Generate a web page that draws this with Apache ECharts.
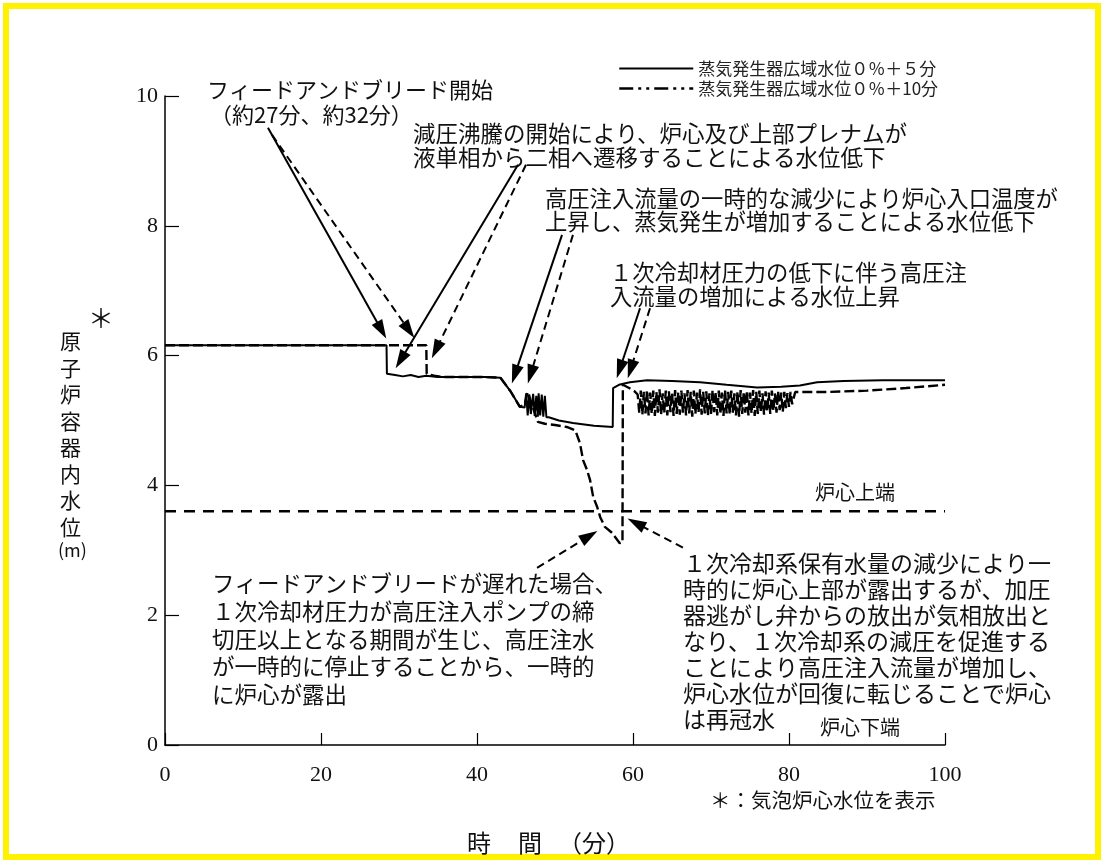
<!DOCTYPE html>
<html><head><meta charset="utf-8">
<script src="https://cdn.jsdelivr.net/npm/echarts@6/dist/echarts.min.js"></script>
<style>html,body{margin:0;padding:0;background:#fff}#c{width:1104px;height:863px}</style>
</head><body><div id="c"></div>
<script>
// ---- data (time in minutes, level in m) ----
const seriesNames = ['蒸気発生器広域水位０％＋５分', '蒸気発生器広域水位０％＋10分'];
const xTicks = [0, 20, 40, 60, 80, 100];
const yTicks = [0, 2, 4, 6, 8, 10];
const coreTopLevel = 3.6;

const sgPlus5 = [
  [0, 6.16], [28.4, 6.16], [28.45, 5.72], [29.5, 5.70], [30.5, 5.68], [31.5, 5.70], [32.5, 5.67],
  [33.5, 5.69], [35, 5.67], [38, 5.67], [41, 5.67], [43, 5.66], [44.3, 5.45], [45.5, 5.21], [46.1, 5.20],
  [46.3, 5.42], [46.5, 5.08], [46.7, 5.40], [46.9, 5.10], [47.2, 5.41], [47.4, 5.07], [47.6, 5.38],
  [47.8, 5.06], [47.9, 5.42], [48.1, 5.08], [48.3, 5.40], [48.5, 5.06], [48.7, 5.38], [48.9, 5.05],
  [49.2, 5.05], [50.5, 5.00], [52.3, 4.96], [55, 4.92], [57.4, 4.90], [57.45, 5.50], [58.2, 5.55],
  [59.6, 5.59], [61.8, 5.62], [65, 5.61], [68.6, 5.59], [72, 5.55], [75.9, 5.51], [79, 5.52],
  [81.4, 5.54], [83.6, 5.59], [87, 5.61], [92, 5.62], [100, 5.62]
];

const sgPlus10 = [
  [0, 6.16], [33.5, 6.16], [33.55, 5.72], [34.5, 5.69], [35.5, 5.67], [38, 5.67], [41, 5.67],
  [43, 5.66], [44.3, 5.45], [45.5, 5.21], [46.1, 5.25], [46.5, 5.44], [47.8, 4.98], [48.7, 4.95],
  [50, 4.93], [51.5, 4.90], [52.6, 4.85], [53.2, 4.65], [53.6, 4.39], [54.1, 4.24], [54.5, 4.08],
  [54.9, 3.82], [55.4, 3.67], [55.8, 3.51], [56.4, 3.36], [57.3, 3.27], [58.3, 3.11], [58.65, 3.12],
  [58.7, 5.55], [59.5, 5.50], [60.2, 5.45],
  [60.6, 5.40], [60.8, 5.12], [61.0, 5.46], [61.2, 5.09], [61.4, 5.44], [61.6, 5.11], [61.8, 5.47],
  [62.0, 5.08], [62.2, 5.43], [62.4, 5.10], [62.6, 5.46], [62.8, 5.07], [63.0, 5.44], [63.2, 5.12],
  [63.4, 5.48], [63.6, 5.09], [63.8, 5.42], [64.0, 5.11], [64.2, 5.46], [64.4, 5.08], [64.6, 5.45],
  [64.8, 5.13], [65.0, 5.43], [65.2, 5.07], [65.4, 5.47], [65.6, 5.10], [65.8, 5.44], [66.0, 5.09],
  [66.2, 5.46], [66.4, 5.12], [66.6, 5.42], [66.8, 5.08], [67.0, 5.47], [67.2, 5.11], [67.4, 5.44],
  [67.6, 5.06], [67.8, 5.46], [68.0, 5.10], [68.2, 5.43], [68.4, 5.12], [68.6, 5.48], [68.8, 5.09],
  [69.0, 5.44], [69.2, 5.11], [69.4, 5.45], [69.6, 5.07], [69.8, 5.42], [70.0, 5.10], [70.2, 5.47],
  [70.4, 5.13], [70.6, 5.44], [70.8, 5.08], [71.0, 5.46], [71.2, 5.10], [71.4, 5.43], [71.6, 5.07],
  [71.8, 5.47], [72.0, 5.11], [72.2, 5.44], [72.4, 5.09], [72.6, 5.46], [72.8, 5.12], [73.0, 5.42],
  [73.2, 5.08], [73.4, 5.45], [73.6, 5.06], [73.8, 5.47], [74.0, 5.10], [74.2, 5.44], [74.4, 5.12],
  [74.6, 5.46], [74.8, 5.08], [75.0, 5.43], [75.2, 5.11], [75.4, 5.47], [75.6, 5.07], [75.8, 5.44],
  [76.0, 5.10], [76.2, 5.46], [76.4, 5.13], [76.6, 5.42], [76.8, 5.09], [77.0, 5.45], [77.2, 5.14],
  [77.4, 5.43], [77.6, 5.10], [77.8, 5.46], [78.0, 5.15], [78.2, 5.42], [78.4, 5.12], [78.6, 5.45],
  [78.8, 5.16], [79.0, 5.43], [79.2, 5.13], [79.4, 5.44], [79.6, 5.19], [79.8, 5.42], [80.0, 5.21],
  [80.2, 5.44], [80.4, 5.25],
  [80.8, 5.44], [85, 5.44], [90, 5.46], [95, 5.50], [100, 5.55]
];

// annotation arrows: [start, head] in data units, solid or dashed
const arrows = [
  {from: [13.2, 9.51], to: [27.77, 6.39], dashed: false},
  {from: [13.72, 9.40], to: [31.27, 6.39], dashed: true},
  {from: [45.26, 8.94], to: [30.2, 5.93], dashed: false},
  {from: [46.28, 8.94], to: [34.74, 6.09], dashed: true},
  {from: [50.9, 7.86], to: [44.86, 5.71], dashed: false},
  {from: [52.3, 7.86], to: [46.87, 5.71], dashed: true},
  {from: [60.9, 6.73], to: [58.3, 5.79], dashed: false},
  {from: [62.18, 6.73], to: [59.7, 5.79], dashed: true},
  {from: [47.7, 2.73], to: [54.4, 3.22], dashed: true},
  {from: [66.4, 3.04], to: [60.38, 3.42], dashed: true}
];

const JP = '"Noto Sans CJK JP", sans-serif';
const SERIF = '"Liberation Serif", "DejaVu Serif", serif';

function txt(left, top, lines, size, lh) {
  return {type: 'text', left: left, top: top, silent: true,
    style: {text: lines.join('\n'), font: size + 'px ' + JP, fill: '#111', lineHeight: lh}};
}

const chart = echarts.init(document.getElementById('c'));
chart.setOption({
  animation: false,
  backgroundColor: '#fff',
  grid: {left: 165, right: 159, top: 96, bottom: 118},
  legend: {
    orient: 'vertical', left: 613, top: 55, itemWidth: 74, itemHeight: 14, itemGap: 3,
    textStyle: {fontFamily: JP, fontSize: 17, color: '#222'},
    itemStyle: {opacity: 0},
    data: [
      {name: seriesNames[0], itemStyle: {opacity: 0}},
      {name: seriesNames[1], itemStyle: {opacity: 0}, lineStyle: {type: [14, 5, 3, 5, 3, 5], width: 2.5}}
    ]
  },
  xAxis: {
    type: 'value', min: 0, max: 100, interval: 20,
    axisLine: {lineStyle: {color: '#000', width: 1.5}},
    axisTick: {inside: true, length: 12, lineStyle: {color: '#000', width: 1.2}},
    axisLabel: {margin: 19, fontFamily: SERIF, fontSize: 22, color: '#111'},
    splitLine: {show: false}
  },
  yAxis: {
    type: 'value', min: 0, max: 10, interval: 2,
    axisLine: {show: true, lineStyle: {color: '#000', width: 1.5}},
    axisTick: {show: true, inside: true, length: 14, lineStyle: {color: '#000', width: 1.2}},
    axisLabel: {margin: 7, fontFamily: SERIF, fontSize: 22, color: '#111'},
    splitLine: {show: false}
  },
  series: [
    {name: seriesNames[0], type: 'line', data: sgPlus5, symbol: 'none', z: 4,
     lineStyle: {color: '#000', width: 2}, itemStyle: {color: '#000'}},
    {name: seriesNames[1], type: 'line', data: sgPlus10, symbol: 'none', z: 3,
     lineStyle: {color: '#000', width: 2.4, type: [10, 4]}, itemStyle: {color: '#000'}},
    {name: 'coreTop', type: 'line', data: [[0, coreTopLevel], [100, coreTopLevel]], symbol: 'none',
     lineStyle: {color: '#000', width: 2.5, type: [11, 8]}, silent: true},
    {name: 'arrows', type: 'line', data: [], symbol: 'none',
     markLine: {
       silent: true, symbol: ['none', 'triangle'], symbolSize: [12, 19], label: {show: false},
       data: arrows.map(a => {
         const ls = {color: '#000', width: 2, type: a.dashed ? [8, 5] : 'solid'};
         return [{coord: a.from, lineStyle: ls}, {coord: a.to, lineStyle: ls}];
       })
     }}
  ],
  graphic: [
    {type: 'rect', silent: true, shape: {x: 6, y: 6, width: 1092, height: 851},
     style: {fill: 'none', stroke: '#FFF200', lineWidth: 6}},
    txt(207, 78, ['フィードアンドブリード開始'], 22, 24),
    txt(210, 103, ['（約27分、約32分）'], 22, 24),
    txt(413, 121, ['減圧沸騰の開始により、炉心及び上部プレナムが', '液単相から二相へ遷移することによる水位低下'], 22.5, 24),
    txt(545, 187, ['高圧注入流量の一時的な減少により炉心入口温度が', '上昇し、蒸気発生が増加することによる水位低下'], 22.3, 23),
    txt(610, 261, ['１次冷却材圧力の低下に伴う高圧注', '入流量の増加による水位上昇'], 22.3, 24),
    txt(815, 481, ['炉心上端'], 20, 22),
    txt(212, 570, ['フィードアンドブリードが遅れた場合、', '１次冷却材圧力が高圧注入ポンプの締',
      '切圧以上となる期間が生じ、高圧注水', 'が一時的に停止することから、一時的', 'に炉心が露出'], 22.5, 27.7),
    txt(683, 550, ['１次冷却系保有水量の減少により一', '時的に炉心上部が露出するが、加圧',
      '器逃がし弁からの放出が気相放出と', 'なり、１次冷却系の減圧を促進する',
      'ことにより高圧注入流量が増加し、', '炉心水位が回復に転じることで炉心', 'は再冠水'], 23, 26),
    txt(820, 716, ['炉心下端'], 20, 22),
    txt(710, 789, ['＊：気泡炉心水位を表示'], 20.5, 22),
    txt(467, 830, ['時'], 24, 26),
    txt(518, 830, ['間'], 24, 26),
    txt(558, 830, ['（分）'], 24, 26),
    txt(60, 328, ['原', '子', '炉', '容', '器', '内', '水', '位'], 21, 26.5),
    txt(58, 540, ['(m)'], 18, 20),
    txt(88, 304, ['＊'], 26, 28)
  ]
});
</script></body></html>
